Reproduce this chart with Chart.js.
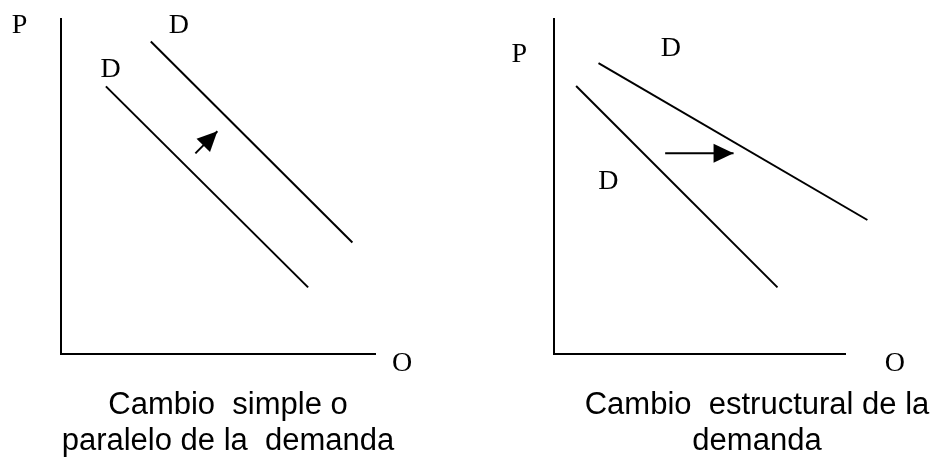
<!DOCTYPE html>
<html>
<head>
<meta charset="utf-8">
<script src="https://cdn.jsdelivr.net/npm/chart.js@4/dist/chart.umd.min.js"></script>
<style>
  html, body { margin: 0; padding: 0; background: #fff; }
  #wrap { position: relative; width: 935px; height: 457px; }
  canvas { position: absolute; top: 0; }
</style>
</head>
<body>
<div id="wrap">
  <canvas id="simple" width="467" height="457" style="left:0"></canvas>
  <canvas id="estructural" width="468" height="457" style="left:467px"></canvas>
</div>
<script>
// Cambio simple: two parallel demand curves (x = cantidad, y = precio, 0..10)
const simpleD1 = [{ x: 1.43, y: 7.99 }, { x: 7.87, y: 1.99 }];
const simpleD2 = [{ x: 2.86, y: 9.33 }, { x: 9.28, y: 3.33 }];
const simpleArrow = [{ x: 4.28, y: 5.99 }, { x: 4.98, y: 6.65 }];
const simpleLabels = [
  { text: "P", x: -1.32, y: 9.59 },
  { text: "D", x: 3.75, y: 9.59 },
  { text: "D", x: 1.58, y: 8.26 },
  { text: "O", x: 10.86, y: -0.51 },
];
const simpleCaption = ["Cambio  simple o", "paralelo de la  demanda"];

// Cambio estructural: demand curve rotates to a flatter slope
const estrD1 = [{ x: 0.76, y: 8.0 }, { x: 7.68, y: 1.99 }];
const estrD2 = [{ x: 1.53, y: 8.68 }, { x: 10.77, y: 4.0 }];
const estrArrow = [{ x: 3.82, y: 5.99 }, { x: 6.17, y: 5.99 }];
const estrLabels = [
  { text: "P", x: -1.19, y: 8.73 },
  { text: "D", x: 4.02, y: 8.9 },
  { text: "D", x: 1.87, y: 4.92 },
  { text: "O", x: 11.71, y: -0.51 },
];
const estrCaption = ["Cambio  estructural de la", "demanda"];

const annotate = {
  id: "annotate",
  afterDatasetsDraw(chart, args, opts) {
    const { ctx, scales: { x, y } } = chart;
    ctx.save();
    ctx.fillStyle = "#000";

    // arrow head at the end of the arrow dataset
    const a = opts.arrow;
    const x0 = x.getPixelForValue(a[0].x), y0 = y.getPixelForValue(a[0].y);
    const x1 = x.getPixelForValue(a[1].x), y1 = y.getPixelForValue(a[1].y);
    const ang = Math.atan2(y1 - y0, x1 - x0);
    const len = 20, half = 9.5;
    const c = Math.cos(ang), s = Math.sin(ang);
    ctx.beginPath();
    ctx.moveTo(x1, y1);
    ctx.lineTo(x1 - len * c + half * s, y1 - len * s - half * c);
    ctx.lineTo(x1 - len * c - half * s, y1 - len * s + half * c);
    ctx.closePath();
    ctx.fill();

    // P, D, O letters
    ctx.font = "28px 'Liberation Serif', 'Times New Roman', serif";
    ctx.textAlign = "center";
    ctx.textBaseline = "alphabetic";
    opts.labels.forEach((l) => {
      ctx.fillText(l.text, x.getPixelForValue(l.x), y.getPixelForValue(l.y));
    });

    // caption under the panel
    ctx.font = "31px 'Liberation Sans', Arial, sans-serif";
    opts.caption.forEach((line, i) => {
      ctx.fillText(line, opts.captionX, 414 + i * 36);
    });
    ctx.restore();
  },
};

function lineSet(data) {
  return {
    data,
    showLine: true,
    borderColor: "#000",
    borderWidth: 2,
    pointRadius: 0,
    clip: false,
  };
}

const hiddenAxis = {
  type: "linear",
  min: 0,
  max: 10,
  grid: { display: false, drawTicks: false },
  ticks: { display: false },
  border: { display: true, color: "#000", width: 2 },
};

function makePanel(id, datasets, padding, extras) {
  return new Chart(document.getElementById(id), {
    type: "scatter",
    data: { datasets },
    options: {
      responsive: false,
      animation: false,
      layout: { padding, autoPadding: false },
      plugins: {
        legend: { display: false },
        tooltip: { enabled: false },
        annotate: extras,
      },
      scales: { x: { ...hiddenAxis }, y: { ...hiddenAxis } },
    },
    plugins: [annotate],
  });
}

makePanel(
  "simple",
  [lineSet(simpleD1), lineSet(simpleD2), lineSet(simpleArrow)],
  { left: 61, right: 92, top: 19, bottom: 103 },
  { arrow: simpleArrow, labels: simpleLabels, caption: simpleCaption, captionX: 228 }
);

makePanel(
  "estructural",
  [lineSet(estrD1), lineSet(estrD2), lineSet(estrArrow)],
  { left: 87, right: 90, top: 19, bottom: 103 },
  { arrow: estrArrow, labels: estrLabels, caption: estrCaption, captionX: 290 }
);
</script>
</body>
</html>
